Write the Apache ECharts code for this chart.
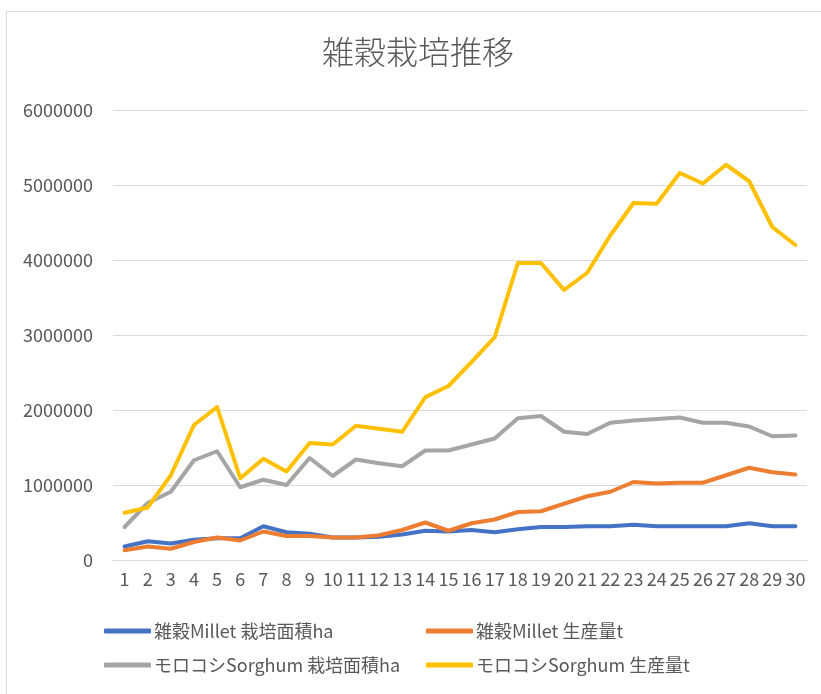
<!DOCTYPE html>
<html>
<head>
<meta charset="utf-8">
<title>雑穀栽培推移</title>
<script src="https://cdn.jsdelivr.net/npm/echarts@6/dist/echarts.min.js"></script>
<style>
  html, body { margin: 0; padding: 0; background: #ffffff; overflow: hidden; }
  .frame {
    position: absolute; left: 6px; top: 11px; width: 900px; height: 800px;
    border: 1px solid #d9d9d9; box-sizing: border-box;
  }
  #myChart { position: absolute; left: 0; top: 0; width: 821px; height: 694px; }
</style>
</head>
<body>
<div class="frame"></div>
<div id="myChart"></div>
<script>
// 横軸 1〜30
const categories = ['1', '2', '3', '4', '5', '6', '7', '8', '9', '10',
  '11', '12', '13', '14', '15', '16', '17', '18', '19', '20',
  '21', '22', '23', '24', '25', '26', '27', '28', '29', '30']

const seriesNames = [
  '雑穀Millet 栽培面積ha',
  '雑穀Millet 生産量t',
  'モロコシSorghum 栽培面積ha',
  'モロコシSorghum 生産量t'
]

// 画像から読み取った値
const milletArea = [180000, 250000, 220000, 270000, 290000, 290000, 450000, 370000, 350000, 300000,
  300000, 310000, 340000, 390000, 380000, 400000, 370000, 410000, 440000, 440000,
  450000, 450000, 470000, 450000, 450000, 450000, 450000, 490000, 450000, 450000]
const milletProd = [130000, 180000, 150000, 240000, 300000, 260000, 380000, 320000, 320000, 300000,
  300000, 330000, 400000, 500000, 390000, 490000, 540000, 640000, 650000, 750000,
  850000, 910000, 1040000, 1020000, 1030000, 1030000, 1130000, 1230000, 1170000, 1140000]
const sorghumArea = [440000, 760000, 910000, 1330000, 1450000, 970000, 1070000, 1000000, 1360000, 1120000,
  1340000, 1290000, 1250000, 1460000, 1460000, 1540000, 1620000, 1890000, 1920000, 1710000,
  1680000, 1830000, 1860000, 1880000, 1900000, 1830000, 1830000, 1780000, 1650000, 1660000]
const sorghumProd = [630000, 700000, 1130000, 1800000, 2040000, 1090000, 1350000, 1180000, 1560000, 1540000,
  1790000, 1750000, 1710000, 2170000, 2320000, 2640000, 2970000, 3960000, 3960000, 3600000,
  3830000, 4330000, 4760000, 4750000, 5160000, 5020000, 5270000, 5050000, 4440000, 4200000]

const seriesData = [milletArea, milletProd, sorghumArea, sorghumProd]
const colors = ['#4472c4', '#ed7d31', '#a5a5a5', '#ffc000']

// 凡例の位置 (2列 x 2行)
const legendPos = [
  { left: 104, top: 622 },
  { left: 426, top: 622 },
  { left: 104, top: 656 },
  { left: 426, top: 656 }
]

const font = '"Noto Sans CJK JP", "Noto Sans", sans-serif'

const myChart = echarts.init(document.getElementById('myChart'))
myChart.setOption({
  animation: false,
  color: colors,
  textStyle: { fontFamily: font },
  title: {
    text: '雑穀栽培推移',
    left: 322,
    top: 36,
    padding: 0,
    textStyle: { fontSize: 32, fontWeight: 300, color: '#595959', fontFamily: font }
  },
  legend: seriesNames.map((name, i) => ({
    data: [name],
    left: legendPos[i].left,
    top: legendPos[i].top,
    padding: 0,
    itemWidth: 47,
    itemHeight: 5,
    itemGap: 4,
    icon: 'roundRect',
    textStyle: { fontSize: 18, color: '#595959', fontFamily: font, padding: [0, 0, 0, -2] }
  })),
  grid: { left: 113, right: 14, top: 110, bottom: 134, containLabel: false },
  xAxis: {
    type: 'category',
    data: categories,
    boundaryGap: true,
    axisLine: { show: true, lineStyle: { color: '#d9d9d9', width: 1 } },
    axisTick: { show: false },
    axisLabel: { color: '#595959', fontSize: 18, margin: 10, interval: 0, fontFamily: font }
  },
  yAxis: {
    type: 'value',
    min: 0,
    max: 6000000,
    interval: 1000000,
    axisLine: { show: false },
    axisTick: { show: false },
    axisLabel: {
      color: '#595959',
      fontSize: 18,
      margin: 20,
      fontFamily: font,
      formatter: v => String(v)
    },
    splitLine: { lineStyle: { color: '#d9d9d9', width: 1 } }
  },
  series: seriesNames.map((name, i) => ({
    name: name,
    type: 'line',
    data: seriesData[i],
    symbol: 'none',
    smooth: false,
    lineStyle: { width: 4, cap: 'round', join: 'round', color: colors[i] }
  }))
})
</script>
</body>
</html>
